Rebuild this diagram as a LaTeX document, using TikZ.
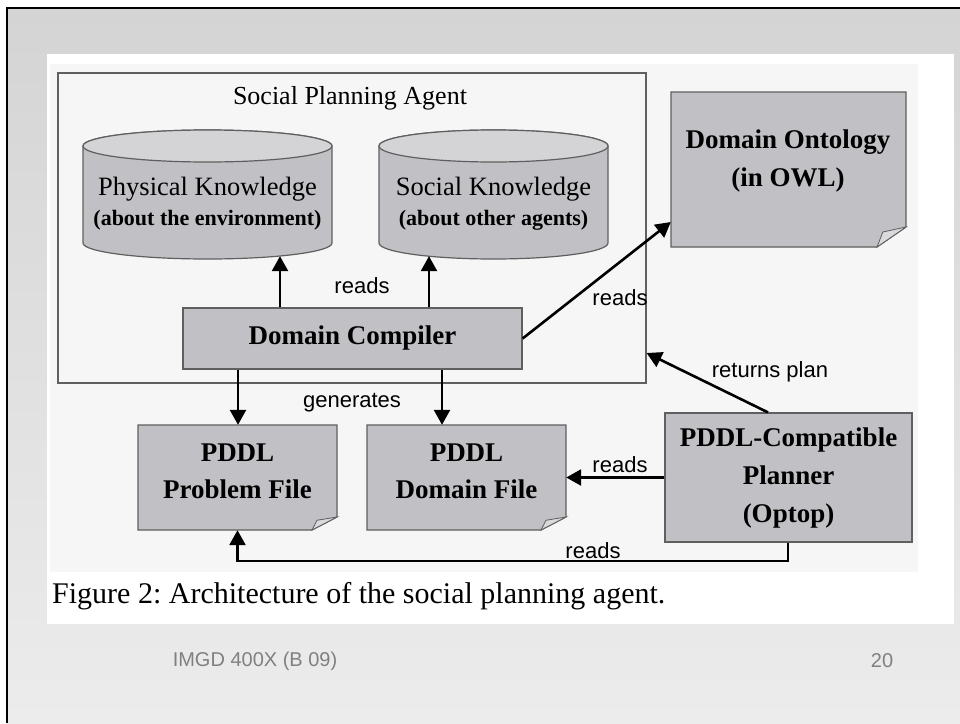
\documentclass[tikz,border=0pt]{standalone}
\usepackage{fontspec}
\setmainfont{Liberation Serif}
\setsansfont{Liberation Sans}
\usetikzlibrary{arrows.meta,calc}
\frenchspacing
\definecolor{boxfill}{RGB}{193,193,197}
\definecolor{cyltop}{RGB}{212,212,214}
\definecolor{edgec}{RGB}{95,95,95}
\definecolor{panelc}{RGB}{246,246,246}
\definecolor{foldc}{RGB}{218,218,220}
\definecolor{bgtop}{RGB}{212,212,212}
\definecolor{bgbot}{RGB}{236,236,236}
\definecolor{footc}{RGB}{128,128,128}
\newcommand{\docshape}[6]{%
  \filldraw[box] (#1,#2) -- (#3,#2) -- (#3,{#4-#6}) -- ({#3-#5},#4) -- (#1,#4) -- cycle;
  \filldraw[draw=edgec, fill=foldc, line width=0.8pt] (#3,{#4-#6}) -- ({#3-#5},#4) -- ({#3-0.8*#5},{#4-0.75*#6}) -- cycle;}
\newcommand{\cylshape}[5]{%
  \filldraw[box] ({#1-#4},#2) -- ({#1-#4},#3) arc[start angle=180,end angle=360,x radius=#4pt,y radius=#5pt] -- ({#1+#4},#2) arc[start angle=0,end angle=180,x radius=#4pt,y radius=#5pt] -- cycle;
  \filldraw[draw=edgec, line width=1.2pt, fill=cyltop] (#1,#2) ellipse[x radius=#4pt, y radius=#5pt];}
\begin{document}
\begin{tikzpicture}[x=1pt,y=-1pt,
  box/.style={draw=edgec, line width=1.2pt, fill=boxfill},
  area/.style={inner sep=0pt, draw=none},
  lbl/.style={font=\sffamily\fontsize{22}{24}\selectfont, inner sep=0pt},
  serifreg/.style={font=\fontsize{26.5}{33}\selectfont, align=center, inner sep=0pt},
  boldlbl/.style={font=\bfseries\fontsize{27}{38}\selectfont, align=center, inner sep=0pt},
  conn/.style={line width=2.6pt, -{Triangle[length=15pt,width=16pt]}}]
% background
\useasboundingbox (0,0) rectangle (960,723);
\fill[white] (0,0) rectangle (960,723);
\shade[top color=bgtop, bottom color=bgbot] (7,8) rectangle (960,723);
\draw[line width=2.5pt] (7,723) -- (7,8) -- (960,8);
\fill[white] (47,54) rectangle (954,624);
\fill[panelc] (50,64) rectangle (918,572);
% agent box
\node[draw=edgec, line width=1.2pt, fill=panelc, minimum width=588pt, minimum height=310pt, inner sep=0pt] (agent) at (352,228) {};
\node[font=\fontsize{26}{30}\selectfont, inner sep=0pt] (title) at (350,98) {Social Planning Agent};
% cylinders
\cylshape{207.5}{146}{243}{124.5}{16}
\node[area, minimum width=249pt, minimum height=126pt] (phys) at (207.5,193) {};
\node[serifreg] (phystxt) at (207.5,203.5) {Physical Knowledge\\[-3pt]{\bfseries\fontsize{22}{26}\selectfont (about the environment)}};
\cylshape{493.5}{146}{243}{114.5}{16}
\node[area, minimum width=229pt, minimum height=126pt] (soc) at (493.5,193) {};
\node[serifreg] (soctxt) at (493.5,203.5) {Social Knowledge\\[-3pt]{\bfseries\fontsize{22}{26}\selectfont (about other agents)}};
% domain compiler
\node[box, minimum width=339pt, minimum height=61pt, inner sep=0pt, font=\bfseries\fontsize{27}{30}\selectfont] (dc) at (352.5,338.5) {Domain Compiler};
% ontology
\docshape{671}{92}{906}{247}{29}{20}
\node[area, minimum width=235pt, minimum height=155pt] (ont) at (788.5,169.5) {};
\node[boldlbl] (onttxt) at (788,161) {Domain Ontology\\(in OWL)};
% PDDL files
\docshape{138}{425}{337}{530}{25}{13}
\node[area, minimum width=199pt, minimum height=105pt] (pf) at (237.5,477.5) {};
\node[font=\bfseries\fontsize{27}{37}\selectfont, align=center, inner sep=0pt] (pftxt) at (237.5,471.5) {PDDL\\Problem File};
\docshape{367}{425}{566}{530}{25}{13}
\node[area, minimum width=199pt, minimum height=105pt] (df) at (466.5,477.5) {};
\node[font=\bfseries\fontsize{27}{37}\selectfont, align=center, inner sep=0pt] (dftxt) at (466.5,471.5) {PDDL\\Domain File};
% planner
\node[box, minimum width=247pt, minimum height=129pt, inner sep=0pt, boldlbl] (plan) at (788.5,477.5) {PDDL-Compatible\\Planner\\(Optop)};
% connector helper coordinates
\coordinate (c1) at (280,0);
\coordinate (c2) at (429,0);
\coordinate (g1) at (238,0);
\coordinate (g2) at (442,0);
\coordinate (o1) at (0,222);
\coordinate (r1) at (768,0);
\coordinate (r2) at (0,353);
\coordinate (b1) at (788,561);
% connectors
\draw[conn] (dc.north -| c1) -- (phys.south -| c1);
\draw[conn] (dc.north -| c2) -- (soc.south -| c2);
\draw[conn] (dc.south -| g1) -- (pf.north -| g1);
\draw[conn] (dc.south -| g2) -- (df.north -| g2);
\draw[conn] (dc.east) -- (ont.west |- o1);
\draw[conn] (plan.north -| r1) -- (agent.east |- r2);
\draw[conn] (plan.west) -- (df.east);
\draw[conn] (plan.south -| b1) -- (b1) -| (pf.south);
% connector labels
\node[lbl] (l1) at (362,286) {reads};
\node[lbl] (l2) at (620,298) {reads};
\node[lbl] (l3) at (352,403) {generates};
\node[lbl] (l4) at (770,372) {returns plan};
\node[lbl] (l5) at (620,465) {reads};
\node[lbl] (l6) at (593,551) {reads};
% caption
\node[anchor=base west, inner sep=0pt, font=\fontsize{30}{34}\selectfont] (cap) at (52,603) {Figure 2: Architecture of the social planning agent.};
% footer
\node[font=\sffamily\fontsize{20}{24}\selectfont, text=footc, inner sep=0pt] (foot) at (255,661) {IMGD 400X (B 09)};
\node[font=\sffamily\fontsize{20}{24}\selectfont, text=footc, inner sep=0pt] (pnum) at (882,661) {20};
\end{tikzpicture}
\end{document}
